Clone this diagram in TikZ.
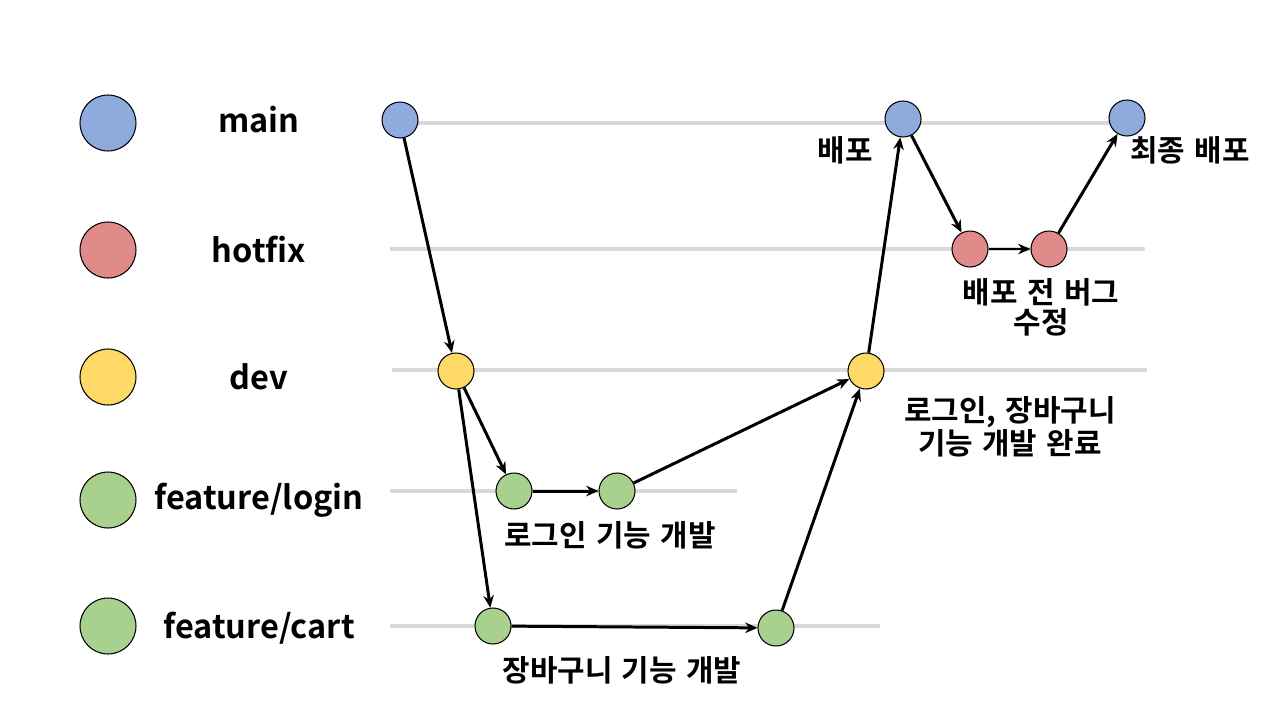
\documentclass[tikz,border=0pt]{standalone}
\usepackage{fontspec}
\setmainfont{Noto Sans CJK KR Bold}[WordSpace=1.4]
\usetikzlibrary{arrows.meta}
\definecolor{mainblue}{HTML}{8FAADC}
\definecolor{hotred}{HTML}{E08A8A}
\definecolor{devyellow}{HTML}{FFD966}
\definecolor{featgreen}{HTML}{A9D18E}
\definecolor{linegray}{HTML}{D9D9D9}
\tikzset{
	legend/.style={circle, draw=black, line width=0.6pt, minimum size=1.12cm, inner sep=0pt},
	commit/.style={circle, draw=black, line width=0.6pt, minimum size=0.72cm, inner sep=0pt},
	branchline/.style={linegray, line width=2pt},
	flow/.style={-{Stealth[length=7pt,width=6pt]}, line width=1.7pt},
	tag/.style={font=\fontsize{17}{17}\selectfont, align=center},
	branchname/.style={font=\fontsize{18.5}{20}\selectfont}
}
\begin{document}
\begin{tikzpicture}[x=0.02cm, y=-0.02cm]
		\useasboundingbox (0,0) rectangle (1280,720);
		
		% Branch lines
		\draw[branchline] (400,123) -- (1140,123);
		\draw[branchline] (390,249) -- (1145,249);
		\draw[branchline] (392,370) -- (1147,370);
		\draw[branchline] (390,491) -- (737,491);
		\draw[branchline] (390,626) -- (880,626);
		
		% Legend
		\node[legend, fill=mainblue] (lmain) at (108,123) {};
		\node[legend, fill=hotred] (lhotfix) at (108,250) {};
		\node[legend, fill=devyellow] (ldev) at (108,377) {};
		\node[legend, fill=featgreen] (llogin) at (108,500) {};
		\node[legend, fill=featgreen] (lcart) at (108,626) {};
		\node[branchname] (nmain) at (259,120) {main};
		\node[branchname] (nhotfix) at (259,250) {hotfix};
		\node[branchname] (ndev) at (259,377) {dev};
		\node[branchname] (nlogin) at (259,500) {feature/login};
		\node[branchname] (ncart) at (259,628) {feature/cart};
		
		% Commits
		\node[commit, fill=mainblue] (main1) at (400,120) {};
		\node[commit, fill=mainblue] (main2) at (903,119) {};
		\node[commit, fill=mainblue] (main3) at (1127,118) {};
		\node[commit, fill=hotred] (hot1) at (970,249) {};
		\node[commit, fill=hotred] (hot2) at (1049,249) {};
		\node[commit, fill=devyellow] (dev1) at (456,371) {};
		\node[commit, fill=devyellow] (dev2) at (866,371) {};
		\node[commit, fill=featgreen] (login1) at (514,491) {};
		\node[commit, fill=featgreen] (login2) at (617,491) {};
		\node[commit, fill=featgreen] (cart1) at (493,626) {};
		\node[commit, fill=featgreen] (cart2) at (776,628) {};
		
		% Labels
		\node[tag] (tdeploy) at (845,150) {배포};
		\node[tag] (tfinal) at (1190,150) {최종 배포};
		\node[tag] (tfix) at (1041,307) {배포 전 버그\\수정};
		\node[tag] (tdone) at (1010,427) {로그인, 장바구니\\기능 개발 완료};
		\node[tag] (tlogin) at (610,535) {로그인 기능 개발};
		\node[tag] (tcart) at (622,670) {장바구니 기능 개발};
		
		% Flow
		\draw[flow] (main1) -- (dev1);
		\draw[flow] (dev1) -- (login1);
		\draw[flow] (dev1) -- (cart1);
		\draw[flow] (login1) -- (login2);
		\draw[flow] (login2) -- (dev2);
		\draw[flow] (cart1) -- (cart2);
		\draw[flow] (cart2) -- (dev2);
		\draw[flow] (dev2) -- (main2);
		\draw[flow] (main2) -- (hot1);
		\draw[flow] (hot1) -- (hot2);
		\draw[flow] (hot2) -- (main3);
	\end{tikzpicture}
\end{document}
